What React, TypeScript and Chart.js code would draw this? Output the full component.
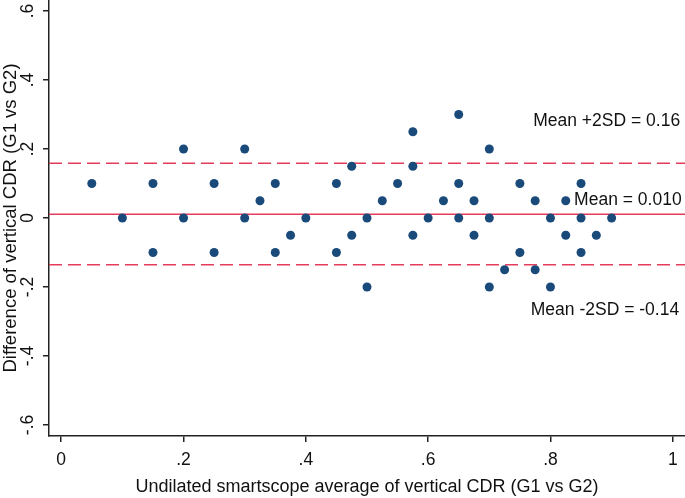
import React, { useEffect, useRef } from "react";
import { Chart, registerables } from "chart.js";

Chart.register(...registerables);

// Bland-Altman data (average x, difference y)
const avgValues = [
  0.05, 0.1, 0.15, 0.15, 0.2, 0.2, 0.25, 0.25, 0.3, 0.3, 0.325, 0.35, 0.35, 0.375, 0.4,
  0.45, 0.45, 0.475, 0.475, 0.5, 0.5, 0.525, 0.55, 0.575, 0.575, 0.575, 0.6, 0.625,
  0.65, 0.65, 0.65, 0.675, 0.675, 0.7, 0.7, 0.7, 0.725, 0.75, 0.75, 0.775, 0.775,
  0.8, 0.8, 0.825, 0.825, 0.85, 0.85, 0.85, 0.875, 0.9,
];
const diffValues = [
  0.1, 0, 0.1, -0.1, 0.2, 0, 0.1, -0.1, 0.2, 0, 0.05, 0.1, -0.1, -0.05, 0,
  0.1, -0.1, 0.15, -0.05, 0, -0.2, 0.05, 0.1, 0.25, 0.15, -0.05, 0, 0.05,
  0.3, 0.1, 0, 0.05, -0.05, 0.2, 0, -0.2, -0.15, 0.1, -0.1, 0.05, -0.15,
  0, -0.2, 0.05, -0.05, 0.1, 0, -0.1, -0.05, 0,
];
const meanDiff = 0.0108;
const upperLimit = 0.1585;
const lowerLimit = -0.1355;
const xTickValues = [0, 0.2, 0.4, 0.6, 0.8, 1];
const yTickValues = [-0.6, -0.4, -0.2, 0, 0.2, 0.4, 0.6];
const annotationLabels = ["Mean +2SD = 0.16", "Mean = 0.010", "Mean -2SD = -0.14"];

const X_MIN = -0.02;
const X_MAX = 1.02;
const Y_MIN = -0.632;
const Y_MAX = 0.632;

const LINE_COLOR = "#e63c5c";
const POINT_COLOR = "#1a4a7a";
const FONT = "'Liberation Sans', Arial, sans-serif";
const FS = 17.5;
const TITLE_FS = 18;

const fmt = (v: number) => {
  const r = Math.round(v * 10) / 10;
  if (r === 0) return "0";
  const s = r.toString();
  return s.replace("0.", ".");
};

export default function App() {
  const ref = useRef<HTMLCanvasElement | null>(null);

  useEffect(() => {
    document.body.style.margin = "0";
    const canvas = ref.current;
    if (!canvas) return;

    const annotate = {
      id: "annotate",
      afterDatasetsDraw(chart: any) {
        const { ctx, scales } = chart;
        const xs = scales.x;
        const ys = scales.y;
        ctx.save();
        ctx.font = `${FS}px ${FONT}`;
        ctx.fillStyle = "#111";
        ctx.textAlign = "right";
        ctx.textBaseline = "middle";
        const right = xs.getPixelForValue(1.012);
        ctx.fillText(annotationLabels[0], right, ys.getPixelForValue(0.281));
        ctx.fillText(annotationLabels[1], right + 1.5, ys.getPixelForValue(0.052));
        ctx.fillText(annotationLabels[2], right - 1, ys.getPixelForValue(-0.267));
        ctx.restore();
      },
    };

    const points = avgValues.map((x, i) => ({ x, y: diffValues[i] }));
    const hline = (v: number) => [
      { x: X_MIN, y: v },
      { x: X_MAX, y: v },
    ];

    const chart = new Chart(canvas, {
      type: "scatter",
      data: {
        datasets: [
          {
            label: "upper",
            data: hline(upperLimit),
            showLine: true,
            borderColor: LINE_COLOR,
            borderWidth: 1.5,
            borderDash: [13, 6],
            pointRadius: 0,
            order: 3,
          },
          {
            label: "mean",
            data: hline(meanDiff),
            showLine: true,
            borderColor: LINE_COLOR,
            borderWidth: 1.5,
            pointRadius: 0,
            order: 3,
          },
          {
            label: "lower",
            data: hline(lowerLimit),
            showLine: true,
            borderColor: LINE_COLOR,
            borderWidth: 1.5,
            borderDash: [13, 6],
            pointRadius: 0,
            order: 3,
          },
          {
            label: "diff",
            data: points,
            backgroundColor: POINT_COLOR,
            borderColor: POINT_COLOR,
            borderWidth: 0,
            pointRadius: 4.5,
            order: 1,
          },
        ],
      },
      options: {
        animation: false,
        responsive: false,
        maintainAspectRatio: false,
        layout: { padding: 0, autoPadding: false },
        plugins: {
          legend: { display: false },
          tooltip: { enabled: false },
        },
        scales: {
          x: {
            type: "linear",
            min: X_MIN,
            max: X_MAX,
            afterBuildTicks: (s: any) => {
              s.ticks = xTickValues.map((value) => ({ value }));
            },
            afterFit: (s: any) => {
              s.height = 62;
              s.paddingLeft = 0;
              s.paddingRight = 0;
            },
            grid: {
              display: true,
              drawOnChartArea: false,
              drawTicks: true,
              tickLength: 6,
              color: "#222",
              lineWidth: 1.5,
            },
            border: { display: true, color: "#222", width: 1.5 },
            ticks: {
              color: "#111",
              font: { family: FONT, size: FS },
              padding: 8,
              maxRotation: 0,
              callback: (v: any) => fmt(Number(v)),
            },
            title: {
              display: true,
              text: "Undilated smartscope average of vertical CDR (G1 vs G2)",
              color: "#111",
              font: { family: FONT, size: TITLE_FS },
              padding: { top: 1, bottom: 0 },
            },
          },
          y: {
            type: "linear",
            min: Y_MIN,
            max: Y_MAX,
            afterBuildTicks: (s: any) => {
              s.ticks = yTickValues.map((value) => ({ value }));
            },
            afterFit: (s: any) => {
              s.width = 49;
              s.paddingTop = 0;
              s.paddingBottom = 0;
            },
            grid: {
              display: true,
              drawOnChartArea: false,
              drawTicks: true,
              tickLength: 6,
              color: "#222",
              lineWidth: 1.5,
            },
            border: { display: true, color: "#222", width: 1.5 },
            ticks: {
              color: "#111",
              font: { family: FONT, size: FS },
              padding: 5,
              minRotation: 90,
              maxRotation: 90,
              crossAlign: "center",
              callback: (v: any) => fmt(Number(v)),
            },
            title: {
              display: true,
              text: "Difference of vertical CDR (G1 vs G2)",
              color: "#111",
              font: { family: FONT, size: 18.5 },
              padding: { top: 0, bottom: 0 },
            },
          },
        },
      },
      plugins: [annotate],
    } as any);

    return () => chart.destroy();
  }, []);

  return (
    <div style={{ position: "absolute", left: 0, top: 0, width: 685, height: 498, background: "#fff" }}>
      <canvas ref={ref} width={685} height={498} style={{ width: 685, height: 498, display: "block" }} />
    </div>
  );
}
